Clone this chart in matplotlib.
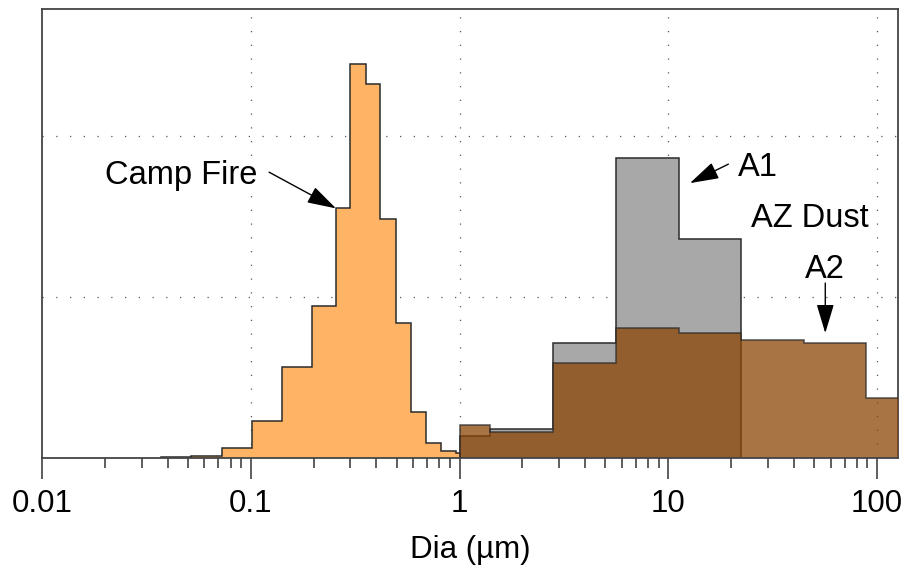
import numpy as np
import matplotlib
matplotlib.use("Agg")
import matplotlib.pyplot as plt
from matplotlib.ticker import FixedLocator, FixedFormatter, LogLocator, NullFormatter

plt.rcParams['font.family'] = ['Liberation Sans', 'DejaVu Sans']

# ---- data ----
camp_edges = [0.037, 0.052, 0.073, 0.101, 0.141, 0.196, 0.256, 0.300, 0.356,
              0.418, 0.495, 0.584, 0.690, 0.814, 0.960, 1.15, 1.57, 1.85,
              2.57, 3.03, 3.58]
camp_vals = [0.004, 0.012, 0.064, 0.23, 0.563, 0.944, 1.551, 2.449, 2.321,
             1.484, 0.837, 0.288, 0.091, 0.045, 0.033, 0.025, 0.014, 0.008,
             0.023, 0.014]

dust_edges = [1.0, 1.4, 2.8, 5.6, 11.2, 22.4, 44.5, 89.0, 178.0]
a1_vals = [0.137, 0.178, 0.712, 1.865, 1.358]
a2_vals = [0.205, 0.160, 0.588, 0.806, 0.778, 0.733, 0.712, 0.373]

xticks = [0.01, 0.1, 1, 10, 100]
xtick_labels = ['0.01', '0.1', '1', '10', '100']

# ---- figure ----
fig = plt.figure(figsize=(9.11, 5.71), dpi=100)
ax = fig.add_axes([42/911, 1-458/571, (898-42)/911, (458-9)/571])

ax.set_xscale('log')
ax.set_xlim(0.01, 126)
ax.set_ylim(0, 2.79)

edge_c = '#2b2b2b'
lw = 1.1

# Camp Fire
ax.stairs(camp_vals, camp_edges, fill=True, facecolor='#FFB465', edgecolor='none', zorder=2)
ax.stairs(camp_vals, camp_edges, color=edge_c, linewidth=lw, zorder=2.1)

# A1 (first 5 dust bins)
a1_edges = dust_edges[:len(a1_vals) + 1]
ax.stairs(a1_vals, a1_edges, fill=True, facecolor='#A8A8A8', edgecolor='none', zorder=3)
ax.stairs(a1_vals, a1_edges, color=edge_c, linewidth=lw, zorder=3.1)

# A2
ax.stairs(a2_vals, dust_edges, fill=True, facecolor='#8C4505', alpha=0.75, edgecolor='none', zorder=4)
ax.stairs(a2_vals, dust_edges, color=edge_c, linewidth=lw, alpha=0.8, zorder=4.1)

# grid
for xv in [0.1, 1, 10, 100]:
    ax.axvline(xv, color='#555555', linestyle=(0, (1, 10)), linewidth=0.9, zorder=1)
for yv in [1, 2]:
    ax.axhline(yv, color='#555555', linestyle=(0, (1, 10)), linewidth=0.9, zorder=1)

# ticks
ax.xaxis.set_major_locator(FixedLocator(xticks))
ax.xaxis.set_major_formatter(FixedFormatter(xtick_labels))
ax.xaxis.set_minor_locator(LogLocator(base=10, subs=np.arange(2, 10)))
ax.xaxis.set_minor_formatter(NullFormatter())
ax.tick_params(axis='x', which='major', direction='out', length=15, width=1.1,
               color='#333333', labelsize=22.5, pad=7)
ax.tick_params(axis='x', which='minor', direction='out', length=7.5, width=1.1,
               color='#333333')
ax.set_yticks([])

for s in ax.spines.values():
    s.set_color('#444444')
    s.set_linewidth(1.3)
ax.spines['bottom'].set_zorder(5)

ax.set_xlabel('Dia (µm)', fontsize=22.5, labelpad=12)

# annotations
arrow_kw = dict(arrowstyle='-|>,head_length=1.0,head_width=0.3', color='black',
                linewidth=1.0, shrinkA=0, shrinkB=0, mutation_scale=18)
ax.text(0.0200, 1.70, 'Camp Fire', fontsize=23.5, ha='left', va='baseline')
ax.annotate('', xy=(0.256, 1.551), xytext=(0.1224, 1.776), arrowprops=arrow_kw)

ax.text(21.6, 1.752, 'A1', fontsize=23.5, ha='left', va='baseline')
ax.annotate('', xy=(12.7, 1.708), xytext=(19.4, 1.826), arrowprops=arrow_kw)

ax.text(24.9, 1.435, 'AZ Dust', fontsize=23.5, ha='left', va='baseline')

ax.text(45.3, 1.118, 'A2', fontsize=23.5, ha='left', va='baseline')
ax.annotate('', xy=(56.5, 0.776), xytext=(56.5, 1.087), arrowprops=arrow_kw)

fig.savefig('out.png', dpi=100)
